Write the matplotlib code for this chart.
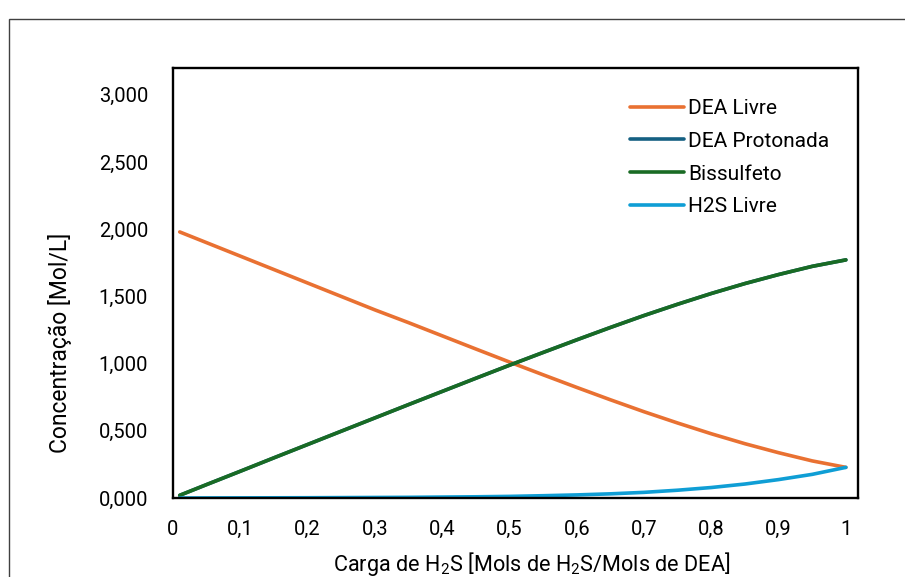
import matplotlib
matplotlib.use("Agg")
import matplotlib.pyplot as plt
from matplotlib.patches import Rectangle
from matplotlib.ticker import FuncFormatter, MultipleLocator

plt.rcParams['font.family'] = ['Roboto', 'DejaVu Sans']
plt.rcParams['mathtext.fontset'] = 'custom'
plt.rcParams['mathtext.rm'] = 'Roboto'
plt.rcParams['mathtext.default'] = 'rm'

# Carga de H2S (mol H2S / mol DEA)
carga = [0.01, 0.05, 0.10, 0.15, 0.20, 0.25, 0.30, 0.35, 0.40, 0.45, 0.50,
         0.55, 0.60, 0.65, 0.70, 0.75, 0.80, 0.85, 0.90, 0.95, 1.00]

# Concentrations [Mol/L]
dea_livre = [1.980, 1.900, 1.800, 1.700, 1.600, 1.500, 1.400, 1.305, 1.207,
             1.109, 1.012, 0.917, 0.823, 0.731, 0.642, 0.558, 0.478, 0.404,
             0.337, 0.276, 0.228]
dea_protonada = [0.020, 0.100, 0.199, 0.299, 0.398, 0.497, 0.596, 0.695, 0.793,
                 0.891, 0.988, 1.083, 1.177, 1.269, 1.358, 1.442, 1.522, 1.596,
                 1.663, 1.724, 1.772]
bissulfeto = [0.020, 0.100, 0.199, 0.299, 0.398, 0.497, 0.596, 0.695, 0.793,
              0.891, 0.988, 1.083, 1.177, 1.269, 1.358, 1.442, 1.522, 1.596,
              1.663, 1.724, 1.772]
h2s_livre = [0.000, 0.0005, 0.001, 0.0015, 0.002, 0.003, 0.004, 0.005, 0.007,
             0.009, 0.012, 0.017, 0.023, 0.031, 0.042, 0.058, 0.078, 0.104,
             0.137, 0.176, 0.228]

series = [
    ("DEA Livre", dea_livre, "#E97132"),
    ("DEA Protonada", dea_protonada, "#156082"),
    ("Bissulfeto", bissulfeto, "#196B24"),
    ("H2S Livre", h2s_livre, "#0F9ED5"),
]

W, H = 905, 577
fig = plt.figure(figsize=(W / 100, H / 100), dpi=100)

# outer chart-area border (runs off the right and bottom edges)
fig.patches.append(Rectangle((9 / W, -0.1), 1.2, (H - 19) / H + 0.1,
                             transform=fig.transFigure, fill=False,
                             edgecolor="#404040", linewidth=1.0))

ax = fig.add_axes([173 / W, (H - 498) / H, (858 - 173) / W, (498 - 68) / H])

for name, vals, color in series:
    ax.plot(carga, vals, color=color, linewidth=2.6, label=name,
            solid_capstyle="round")

ax.set_xlim(0, 1.018)
ax.set_ylim(0, 3.2)
ax.xaxis.set_major_locator(MultipleLocator(0.1))


def fmt_x(v, pos):
    if abs(v) < 1e-9:
        return "0"
    if abs(v - 1) < 1e-9:
        return "1"
    return f"{v:.1f}".replace(".", ",")


def fmt_y(v, pos):
    return f"{v:.3f}".replace(".", ",")


ax.xaxis.set_major_formatter(FuncFormatter(fmt_x))
ax.yaxis.set_major_formatter(FuncFormatter(fmt_y))
ax.set_yticks([0, 0.5, 1.0, 1.5, 2.0, 2.5, 3.0])
ax.tick_params(axis="both", length=0, labelsize=14.5, colors="black")
ax.tick_params(axis="x", pad=16)
ax.tick_params(axis="y", pad=18)

for sp in ax.spines.values():
    sp.set_linewidth(1.7)
    sp.set_color("black")

fig.text(60 / W, 1 - 343 / H, "Concentração [Mol/L]", rotation=90,
         ha="center", va="center", fontsize=16.5)
fig.text(532 / W, 1 - 564 / H,
         "Carga de H$_2$S [Mols de H$_2$S/Mols de DEA]",
         ha="center", va="center", fontsize=15.6)

ax.legend(loc="upper left", bbox_to_anchor=(630 / W, 1 - 99 / H),
          bbox_transform=fig.transFigure, frameon=False, fontsize=15,
          handlelength=2.6, handletextpad=0.2, labelspacing=0.66,
          borderpad=0, borderaxespad=0)

fig.savefig("out.png", dpi=100)
